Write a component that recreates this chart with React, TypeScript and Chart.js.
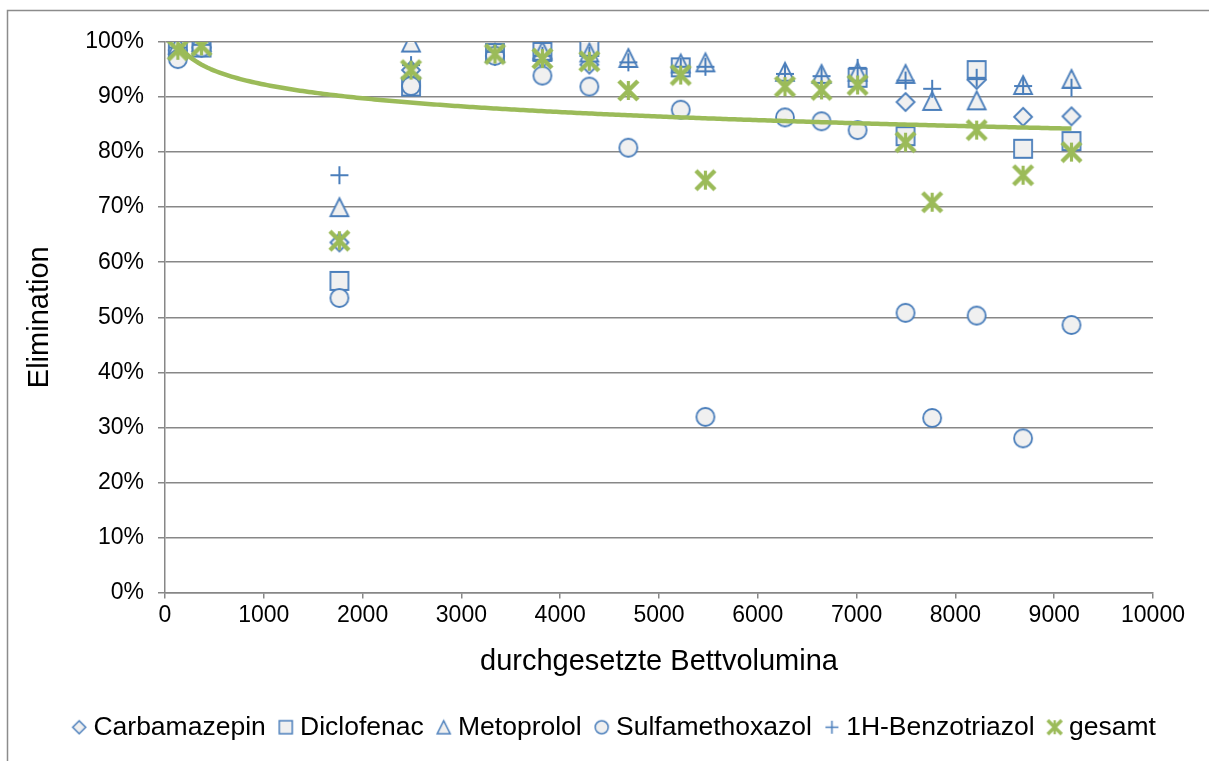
import React, { useEffect, useRef } from 'react';
import { Chart, registerables } from 'chart.js';

Chart.register(...registerables);

// ---- data ----
const bettvolumina = [130, 370, 1765, 2490, 3340, 3820, 4295, 4690, 5220, 5470, 6275, 6645, 7010, 7495, 7765, 8215, 8685, 9175];
const carbamazepin = [98.5, 99, 63.6, 94.9, 97.5, 97, 95.9, null, 95.3, null, null, null, 93.6, 89.1, null, 93.1, 86.4, 86.5];
const diclofenac = [98.6, 99, 56.6, 91.9, 98, 98.2, 99.1, null, 95.4, null, null, null, 93.5, 82.9, null, 94.9, 80.6, 82.0];
const metoprolol = [99.5, 100, 70.0, 99.9, 98, 98.4, 98.1, 97.1, 96.1, 96.3, 94.6, 94.2, 94.6, 94.2, 89.3, 89.4, 92.2, 93.3];
const sulfamethoxazol = [96.9, 99, 53.5, 92.0, 97.5, 93.9, 91.9, 80.8, 87.7, 31.9, 86.3, 85.6, 84.0, 50.8, 31.7, 50.3, 28.0, 48.6];
const benzotriazol = [99, 99.5, 75.8, 95.8, 98.2, 97.5, 97.5, 96.3, 95.5, 95.5, 94.2, 93.8, 95.3, 93.0, 91.5, 93.5, 92.0, 91.7];
const gesamt = [98.5, 99.3, 63.9, 94.9, 97.8, 97.0, 96.5, 91.2, 94.0, 74.9, 91.9, 91.3, 92.2, 81.8, 70.9, 84.0, 75.8, 80.0];

const seriesNames = ['Carbamazepin', 'Diclofenac', 'Metoprolol', 'Sulfamethoxazol', '1H-Benzotriazol', 'gesamt'];
const seriesValues = [carbamazepin, diclofenac, metoprolol, sulfamethoxazol, benzotriazol, gesamt];
const markerKinds = ['diamond', 'square', 'triangle', 'circle', 'plus', 'star'];

const yTickLabels = ['0%', '10%', '20%', '30%', '40%', '50%', '60%', '70%', '80%', '90%', '100%'];
const xTickLabels = ['0', '1000', '2000', '3000', '4000', '5000', '6000', '7000', '8000', '9000', '10000'];

const yTitle = 'Elimination';
const xTitle = 'durchgesetzte Bettvolumina';

// ---- styles ----
const BLUE = '#4A7EBB';
const FILL = '#F0F0F0';
const GREEN = '#9BBB59';
const GRID = '#878787';
const FONT = "'Liberation Sans', Arial, sans-serif";

function makeMarker(kind: string, size: number, lw: number): HTMLCanvasElement {
  const dim = Math.ceil(size + 8);
  const c = document.createElement('canvas');
  c.width = dim;
  c.height = dim;
  const ctx = c.getContext('2d') as CanvasRenderingContext2D;
  const m = dim / 2;
  const h = size / 2;
  ctx.lineWidth = lw;
  ctx.strokeStyle = kind === 'star' ? GREEN : BLUE;
  ctx.fillStyle = FILL;
  ctx.lineJoin = 'miter';
  ctx.beginPath();
  switch (kind) {
    case 'diamond':
      ctx.moveTo(m, m - h);
      ctx.lineTo(m + h, m);
      ctx.lineTo(m, m + h);
      ctx.lineTo(m - h, m);
      ctx.closePath();
      ctx.fill();
      ctx.stroke();
      break;
    case 'square':
      ctx.rect(m - h, m - h, size, size);
      ctx.fill();
      ctx.stroke();
      break;
    case 'triangle':
      ctx.moveTo(m, m - h);
      ctx.lineTo(m + h, m + h);
      ctx.lineTo(m - h, m + h);
      ctx.closePath();
      ctx.fill();
      ctx.stroke();
      break;
    case 'circle':
      ctx.arc(m, m, h, 0, Math.PI * 2);
      ctx.fill();
      ctx.stroke();
      break;
    case 'plus':
      ctx.moveTo(m - h, m);
      ctx.lineTo(m + h, m);
      ctx.moveTo(m, m - h);
      ctx.lineTo(m, m + h);
      ctx.stroke();
      break;
    case 'star':
      ctx.lineCap = 'butt';
      ctx.moveTo(m - h, m - h);
      ctx.lineTo(m + h, m + h);
      ctx.moveTo(m + h, m - h);
      ctx.lineTo(m - h, m + h);
      ctx.stroke();
      ctx.beginPath();
      ctx.lineWidth = lw * 0.7;
      ctx.moveTo(m, m - h);
      ctx.lineTo(m, m + h);
      ctx.stroke();
      break;
  }
  return c;
}

const framePlugin = {
  id: 'frame',
  beforeDraw(chart: any) {
    const ctx = chart.ctx;
    ctx.save();
    ctx.fillStyle = '#ffffff';
    ctx.fillRect(0, 0, chart.width, chart.height);
    ctx.strokeStyle = '#8C8C8C';
    ctx.lineWidth = 1.5;
    ctx.strokeRect(7.5, 10.5, chart.width - 15, chart.height + 20);
    ctx.restore();
  },
};

// logarithmic trend line (least squares on the "gesamt" series), drawn through the chart's scales
const trendPlugin = {
  id: 'logTrend',
  afterDatasetsDraw(chart: any) {
    const pts: number[][] = [];
    bettvolumina.forEach((x, i) => {
      if (gesamt[i] != null) pts.push([Math.log(x), gesamt[i] as number]);
    });
    const n = pts.length;
    const mx = pts.reduce((s, p) => s + p[0], 0) / n;
    const my = pts.reduce((s, p) => s + p[1], 0) / n;
    let sxy = 0;
    let sxx = 0;
    pts.forEach((p) => {
      sxy += (p[0] - mx) * (p[1] - my);
      sxx += (p[0] - mx) * (p[0] - mx);
    });
    const b = sxy / sxx;
    const a = my - b * mx;
    const xs = chart.scales.x;
    const ys = chart.scales.y;
    const x0 = Math.min(...bettvolumina);
    const x1 = Math.max(...bettvolumina);
    const ctx = chart.ctx;
    ctx.save();
    ctx.strokeStyle = GREEN;
    ctx.lineWidth = 4.5;
    ctx.lineJoin = 'round';
    ctx.beginPath();
    const steps = 300;
    for (let k = 0; k <= steps; k++) {
      const xv = x0 + ((x1 - x0) * k) / steps;
      const yv = a + b * Math.log(xv);
      const px = xs.getPixelForValue(xv);
      const py = ys.getPixelForValue(yv);
      if (k === 0) ctx.moveTo(px, py);
      else ctx.lineTo(px, py);
    }
    ctx.stroke();
    ctx.restore();
  },
};

export default function App() {
  const ref = useRef<HTMLCanvasElement | null>(null);

  useEffect(() => {
    if (!ref.current) return;
    Chart.defaults.font.family = FONT;

    const pointMarkers = markerKinds.map((k) => makeMarker(k, k === 'star' ? 19 : 18, k === 'star' ? 4.5 : k === 'plus' ? 2 : 1.8));
    const legendMarkers = markerKinds.map((k) => makeMarker(k, k === 'star' ? 14 : 13, k === 'star' ? 3.5 : 1.5));

    const datasets: any[] = seriesNames.map((name, si) => ({
      label: name,
      data: bettvolumina
        .map((x, i) => ({ x, y: seriesValues[si][i] }))
        .filter((p) => p.y != null),
      pointStyle: pointMarkers[si],
      pointRadius: 10,
      pointHoverRadius: 10,
      showLine: false,
      order: seriesNames.length - si,
      borderColor: si === 5 ? GREEN : BLUE,
      backgroundColor: FILL,
    }));

    const chart = new Chart(ref.current, {
      type: 'scatter',
      data: { datasets },
      plugins: [framePlugin, trendPlugin],
      options: {
        responsive: false,
        animation: false,
        events: [],
        layout: { padding: { top: 42, left: 0, right: 0, bottom: 10.5 } },
        scales: {
          x: {
            type: 'linear',
            min: 0,
            max: 10000,
            afterBuildTicks: (s: any) => {
              s.ticks = xTickLabels.map((t) => ({ value: Number(t) }));
            },
            ticks: {
              callback: (_v: any, i: number) => xTickLabels[i],
              color: '#000',
              font: { size: 23 },
              padding: 3,
              maxRotation: 0,
              autoSkip: false,
            },
            grid: { drawOnChartArea: false, color: GRID, lineWidth: 1.5, tickLength: 6 },
            border: { display: true, color: GRID, width: 1.5 },
            title: {
              display: true,
              text: xTitle,
              color: '#000',
              font: { size: 29 },
              padding: { top: 0, bottom: 16 },
            },
            afterFit: (s: any) => {
              s.height = 102.5;
            },
          },
          y: {
            type: 'linear',
            min: 0,
            max: 100,
            afterBuildTicks: (s: any) => {
              s.ticks = yTickLabels.map((t) => ({ value: parseFloat(t) }));
            },
            ticks: {
              callback: (_v: any, i: number) => yTickLabels[i],
              color: '#000',
              font: { size: 23 },
              padding: 14,
            },
            grid: { color: GRID, lineWidth: 1.5, tickLength: 7 },
            border: { display: true, color: GRID, width: 1.5 },
            title: {
              display: true,
              text: yTitle,
              color: '#000',
              font: { size: 29 },
              padding: { top: 22.5, bottom: 0 },
            },
            afterFit: (s: any) => {
              s.width = 165;
            },
          },
          y2: {
            type: 'linear',
            position: 'right',
            display: true,
            grid: { display: false, drawTicks: false },
            ticks: { display: false },
            border: { display: false },
            afterFit: (s: any) => {
              s.width = 81;
            },
          },
        },
        plugins: {
          tooltip: { enabled: false },
          legend: {
            display: true,
            position: 'bottom',
            labels: {
              usePointStyle: true,
              pointStyleWidth: 2,
              boxHeight: 14,
              padding: 19,
              color: '#000',
              font: { size: 26.5 },
              generateLabels: (ch: any) =>
                ch.data.datasets.map((ds: any, i: number) => ({
                  text: ds.label,
                  pointStyle: legendMarkers[i],
                  fillStyle: 'rgba(0,0,0,0)',
                  strokeStyle: 'rgba(0,0,0,0)',
                  lineWidth: 0,
                  hidden: false,
                  datasetIndex: i,
                  fontColor: '#000',
                })),
            },
          },
        },
      } as any,
    });

    return () => {
      chart.destroy();
    };
  }, []);

  return (
    <div style={{ position: 'absolute', left: 0, top: 0, width: 1209, height: 761, overflow: 'hidden', background: '#fff' }}>
      <canvas ref={ref} width={1234} height={761} style={{ display: 'block', width: 1234, height: 761 }} />
    </div>
  );
}
